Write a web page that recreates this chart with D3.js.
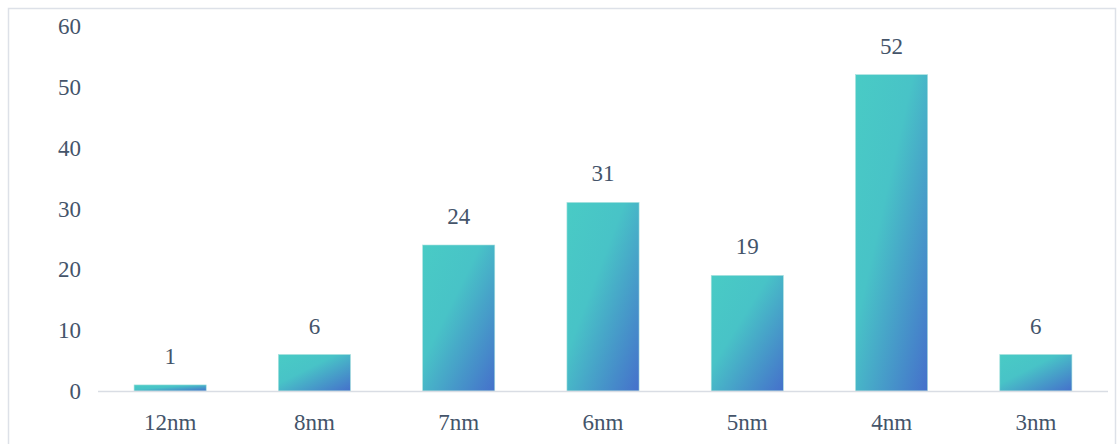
<!DOCTYPE html>
<html>
<head>
<meta charset="utf-8">
<script src="https://cdn.jsdelivr.net/npm/d3@7"></script>
<style>
  body { margin: 0; background: #fff; }
</style>
</head>
<body>
<svg id="chart"></svg>
<script>
const categories = ["12nm", "8nm", "7nm", "6nm", "5nm", "4nm", "3nm"];
const values = [1, 6, 24, 31, 19, 52, 6];
const yTicks = [0, 10, 20, 30, 40, 50, 60];

const width = 1117, height = 444;
const margin = { top: 26, right: 8, bottom: 53, left: 98 };
const fontSize = 23;
const fontFamily = "'Liberation Serif', 'Times New Roman', 'DejaVu Serif', serif";
const textColor = "#44546a";

const svg = d3.select("#chart").attr("width", width).attr("height", height);

// outer frame
svg.append("rect")
  .attr("x", 8.5).attr("y", 8.5)
  .attr("width", 1107).attr("height", 440)
  .attr("fill", "#fff")
  .attr("stroke", "#dde1e8")
  .attr("stroke-width", 1.5);

const defs = svg.append("defs");
const grad = defs.append("linearGradient")
  .attr("id", "barGrad")
  .attr("x1", 0).attr("y1", 0).attr("x2", 1).attr("y2", 1);
grad.append("stop").attr("offset", "0%").attr("stop-color", "#49cbc5");
grad.append("stop").attr("offset", "40%").attr("stop-color", "#48c3c7");
grad.append("stop").attr("offset", "100%").attr("stop-color", "#4570cb");

const x = d3.scaleBand()
  .domain(categories)
  .range([margin.left, width - margin.right - 1])
  .paddingInner(0.5)
  .paddingOuter(0.25);

const y = d3.scaleLinear()
  .domain([0, 60])
  .range([height - margin.bottom, margin.top]);

// y axis labels
const yAxis = svg.append("g")
  .attr("transform", `translate(${margin.left - 17},0)`)
  .call(d3.axisLeft(y).tickValues(yTicks).tickSize(0).tickPadding(0))
  .attr("font-family", fontFamily)
  .attr("font-size", fontSize);
yAxis.select(".domain").remove();
yAxis.selectAll("text")
  .attr("fill", textColor)
  .attr("dy", "0.33em");

// bars
const data = categories.map((c, i) => ({ cat: c, val: values[i] }));

svg.append("g").selectAll("rect")
  .data(data)
  .enter()
  .append("rect")
  .attr("x", d => x(d.cat))
  .attr("y", d => y(d.val))
  .attr("width", x.bandwidth())
  .attr("height", d => y(0) - y(d.val))
  .attr("fill", "url(#barGrad)")
  .attr("stroke", "#a9e2de")
  .attr("stroke-width", 0.6);

// baseline
svg.append("line")
  .attr("x1", margin.left).attr("x2", width - margin.right - 1)
  .attr("y1", y(0) + 0.5).attr("y2", y(0) + 0.5)
  .attr("stroke", "#d9dde4")
  .attr("stroke-width", 1.5);

// value labels
svg.append("g")
  .attr("font-family", fontFamily)
  .attr("font-size", fontSize)
  .attr("fill", textColor)
  .selectAll("text")
  .data(data)
  .enter()
  .append("text")
  .attr("x", d => x(d.cat) + x.bandwidth() / 2)
  .attr("y", d => y(d.val) - 21)
  .attr("text-anchor", "middle")
  .text(d => d.val);

// category labels
const xAxis = svg.append("g")
  .attr("transform", `translate(0,${y(0)})`)
  .call(d3.axisBottom(x).tickSize(0).tickPadding(0))
  .attr("font-family", fontFamily)
  .attr("font-size", fontSize);
xAxis.select(".domain").remove();
xAxis.selectAll("text")
  .attr("fill", textColor)
  .attr("dy", "1.7em");
</script>
</body>
</html>
